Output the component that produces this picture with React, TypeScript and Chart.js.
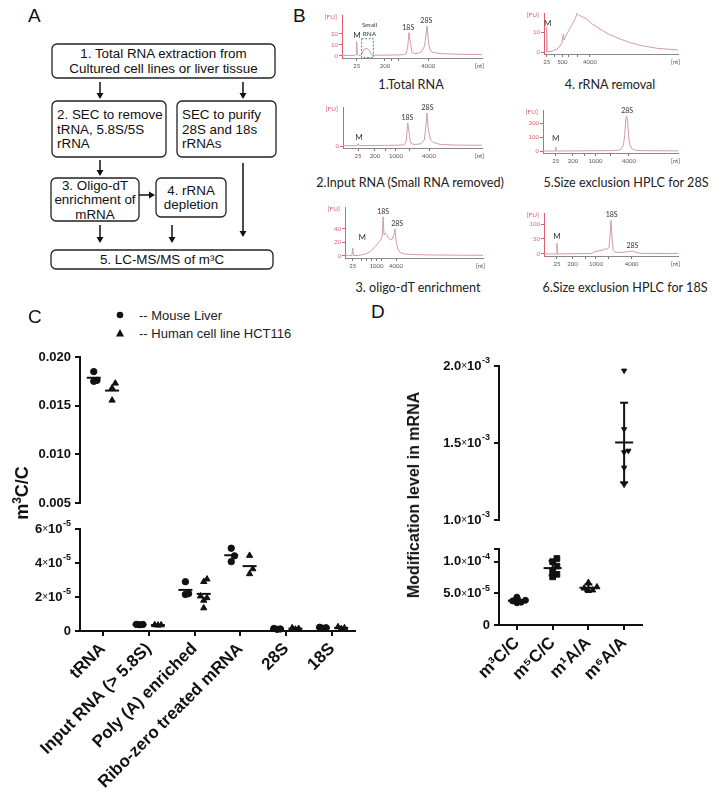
import React, { useEffect, useRef } from "react";
import { Chart, registerables } from "chart.js";

Chart.register(...registerables);
if (typeof document !== "undefined") document.body.style.margin = "0";

const ARIAL = '"Liberation Sans", Arial, Helvetica, sans-serif';
const CALI = 'Lato, "Open Sans", "Noto Sans", sans-serif';
const RED = "#de5e6e";
const TRACE = "#d49aa6";
const INK = "#111";

// ================= Panel B : electropherograms =================
const bTitles = [
  "1.Total RNA",
  "2.Input RNA (Small RNA removed)",
  "3. oligo-dT enrichment",
  "4. rRNA removal",
  "5.Size exclusion HPLC for 28S",
  "6.Size exclusion HPLC for 18S",
];

// traces: [migration position (0-100 of axis), fluorescence FU]
const b1Trace = [[0,0.3],[9,0.3],[10,1],[10.5,13],[11,1],[12,0.3],[14,0.8],[15,4],[16,6.2],[18,6.6],[19.5,5],[21,1],[23,0.5],[30,0.6],[40,0.8],[44,1],[46,2],[47,9],[47.9,21],[49,11],[50,3],[52,1.8],[55,2.5],[57,4],[59,9],[60.7,27],[62,10],[63,5],[65,3],[70,2],[80,1.5],[90,1.2],[100,1.2]];
const b1XTicks = [10.5, 30.7, 35.5, 40.2, 61.6];
const b1XLabels = ["25", "200", "", "", "4000"];
const b1YTicks = [0, 10, 20];
const b1Labels = [{ text: "M", x: 10.7, y: 14.5, size: 8 }, { text: "Small\nRNA", x: 19.6, y: 17, size: 6.5 }, { text: "18S", x: 47.3, y: 22.5, size: 7 }, { text: "28S", x: 60.2, y: 28.5, size: 7 }];

const b2Trace = [[0,0.3],[10,0.3],[10.8,2.5],[11.6,0.4],[20,0.5],[30,0.6],[40,0.8],[44,1.2],[45.5,5],[46.6,23],[47.5,14],[48.5,4],[49.5,2],[52,1.5],[56,2.2],[58.5,6],[59.6,20],[60.4,33],[61.4,16],[63,6],[65,3.5],[67,3],[70,1.5],[80,1],[90,0.8],[100,0.8]];
const b2XTicks = [10.8, 23, 30.9, 38.1, 48.2, 61.9];
const b2XLabels = ["25", "200", "", "1000", "", "4000"];
const b2YTicks = [0];
const b2Labels = [{ text: "M", x: 11.5, y: 5, size: 8 }, { text: "18S", x: 46.3, y: 24.5, size: 7 }, { text: "28S", x: 60.8, y: 34.5, size: 7 }];

const b3Trace = [[0,0.5],[5,0.5],[5.6,12],[6.2,0.5],[10,0.8],[12,1.5],[15,3],[18,6],[21,12],[24,19],[26,24],[27,30],[27.6,58],[28.3,31],[29.2,34],[30.2,32],[31.3,27],[32.8,24],[34.2,25],[35.4,31],[36.2,40],[37,22],[38.3,10],[40,5],[43,3],[50,2],[60,1.6],[75,1.3],[100,1]];
const b3XTicks = [5.6, 12.1, 15.7, 19.3, 22.9, 26.6, 37.0];
const b3XLabels = ["25", "", "", "", "1000", "", "4000"];
const b3YTicks = [0, 20, 40];
const b3Labels = [{ text: "M", x: 12.5, y: 22, size: 8 }, { text: "18S", x: 27.6, y: 60, size: 7 }, { text: "28S", x: 37.8, y: 43, size: 7 }];

const b4Trace = [[0,0],[1.6,0],[2,12.5],[2.4,0],[6,0.4],[9.7,1.5],[12,3],[13.4,4.5],[14.4,9],[15,6],[17,9],[19.5,12],[21.6,14.5],[23.5,17],[24.6,19.3],[26,18.3],[28,17.8],[32,16.5],[36,14],[41.8,11.5],[48,9],[56.7,6.5],[65,4.5],[74,3],[85,1.8],[100,1]];
const b4XTicks = [2, 7.9, 13.7, 18.4, 24.8, 34.3];
const b4XLabels = ["25", "", "500", "", "", "4000"];
const b4YTicks = [0, 10];
const b4Labels = [{ text: "M", x: 2.8, y: 12.5, size: 8 }];

const b5Trace = [[0,0],[9,0],[9.4,30],[9.8,0],[20,1],[40,2],[52,3],[56,6],[58,15],[59.5,40],[60.5,110],[61.4,230],[62,250],[62.7,210],[63.5,100],[64.5,40],[66,15],[68,6],[72,3],[80,2],[100,1]];
const b5XTicks = [9.4, 22.2, 30.4, 38.9, 50, 63.7];
const b5XLabels = ["25", "200", "", "1000", "", "4000"];
const b5YTicks = [0, 100, 200];
const b5Labels = [{ text: "M", x: 9.4, y: 65, size: 8 }, { text: "28S", x: 62.3, y: 262, size: 7 }];

const b6Trace = [[0,0],[9.3,0],[9.7,35],[10.1,0],[20,0.5],[30,1],[36,2],[38,8],[41,10],[44,13],[46,18],[47,15],[48.5,22],[49.3,60],[50,113],[50.8,50],[51.7,12],[53,6],[56,5],[60,6],[63,8],[65.7,9.5],[68,6],[72,2],[80,1.5],[100,1]];
const b6XTicks = [9.7, 21.3, 30.6, 38.8, 47.8, 65.4];
const b6XLabels = ["25", "200", "", "1000", "", "4000"];
const b6YTicks = [0, 50, 100];
const b6Labels = [{ text: "M", x: 9.7, y: 45, size: 8 }, { text: "18S", x: 50.5, y: 118, size: 7 }, { text: "28S", x: 66, y: 16, size: 7 }];

// ================= Panel C =================
const cCategories = ["tRNA", "Input RNA (> 5.8S)", "Poly (A) enriched", "Ribo-zero treated mRNA", "28S", "18S"];
const cSeriesNames = ["-- Mouse Liver", "-- Human cell line HCT116"];
const cMouseLiver = [
  [0.0185, 0.0176, 0.0175],
  [3.9e-6, 3.7e-6, 3.8e-6],
  [2.9e-5, 2.2e-5, 2.15e-5],
  [4.87e-5, 4.42e-5, 4.08e-5],
  [1.2e-6, 1.5e-6, 1.0e-6],
  [1.6e-6, 2.2e-6, 1.9e-6],
];
const cHCT116 = [
  [0.0173, 0.0168, 0.01555],
  [3.4e-6, 3.6e-6, 3.5e-6],
  [2.9e-5, 3.05e-5, 2.05e-5, 1.95e-5, 1.8e-5, 1.35e-5],
  [4.44e-5, 3.65e-5, 3.36e-5],
  [1.0e-6, 1.8e-6, 1.4e-6],
  [1.3e-6, 2.4e-6, 1.8e-6],
];
const cUpperTicks = [0.005, 0.01, 0.015, 0.02];
const cUpperLabels = ["0.005", "0.010", "0.015", "0.020"];
const cLowerTicks = [0, 2e-5, 4e-5, 6e-5];
const cLowerLabels = ["0", "2×10⁻⁵", "4×10⁻⁵", "6×10⁻⁵"];

// ================= Panel D =================
const dCategories = ["m³C/C", "m⁵C/C", "m¹A/A", "m⁶A/A"];
const dValues = [
  [4.4e-5, 3.9e-5, 3.6e-5, 3.5e-5, 3.8e-5],
  [1.05e-4, 1.0e-4, 9.3e-5, 8.5e-5, 8.0e-5, 7.6e-5],
  [6.7e-5, 6.0e-5, 5.8e-5, 5.5e-5, 5.4e-5],
  [1.97e-3, 1.59e-3, 1.44e-3, 1.45e-3, 1.34e-3, 1.23e-3],
];
const dUpperTicks = [1.0e-3, 1.5e-3, 2.0e-3];
const dUpperLabels = ["1.0×10⁻³", "1.5×10⁻³", "2.0×10⁻³"];
const dLowerTicks = [0, 5e-5, 1e-4, 1.2e-4];
const dLowerLabels = ["0", "5.0×10⁻⁵", "1.0×10⁻⁴", ""];

// ================= Panel A (flowchart text/layout) =================
const flowBoxes = [
  { x: 52, y: 44, w: 223, h: 34, align: "middle", lines: ["1. Total RNA extraction from", "Cultured cell lines or liver tissue"] },
  { x: 52, y: 101, w: 114, h: 56, align: "start", lines: ["2. SEC to remove", "tRNA, 5.8S/5S", "rRNA"] },
  { x: 177, y: 101, w: 99, h: 56, align: "start", lines: ["SEC to purify", "28S and 18s", "rRNAs"] },
  { x: 51, y: 178, w: 88, h: 43, align: "middle", lines: ["3. Oligo-dT", "enrichment of", "mRNA"] },
  { x: 156, y: 178, w: 70, h: 39, align: "middle", lines: ["4. rRNA", "depletion"] },
  { x: 51, y: 250, w: 222, h: 19, align: "middle", lines: ["5. LC-MS/MS of m³C"] },
];
const flowArrows = [
  [100, 82, 100, 99], [243, 82, 243, 99], [100, 160, 100, 176], [243, 163, 243, 237],
  [139, 195, 155, 195], [100, 225, 100, 243], [172, 225, 172, 243],
];

// ================= helpers =================
type Area = { left: number; top: number; right: number; bottom: number };
type Pad = { l: number; t: number; r: number; b: number };

function ChartCanvas({ area, pad, make }: { area: Area; pad: Pad; make: () => any }) {
  const ref = useRef<HTMLCanvasElement>(null);
  const W = Math.round(area.right - area.left + pad.l + pad.r);
  const H = Math.round(area.bottom - area.top + pad.t + pad.b);
  useEffect(() => {
    const chart = new Chart(ref.current as HTMLCanvasElement, make());
    return () => chart.destroy();
  }, []);
  return (
    <canvas
      ref={ref}
      width={W}
      height={H}
      style={{ position: "absolute", left: area.left - pad.l, top: area.top - pad.t, width: W, height: H }}
    />
  );
}

const epgMarksPlugin = {
  id: "epgMarks",
  afterDraw(chart: any, _a: any, opts: any) {
    const { ctx, chartArea: a, scales } = chart;
    const x = scales.x, y = scales.y;
    ctx.save();
    ctx.font = `6.5px ${CALI}`;
    ctx.fillStyle = RED;
    ctx.textAlign = "right";
    ctx.textBaseline = "middle";
    ctx.fillText("[FU]", a.left - 5, a.top + 2);
    ctx.fillStyle = "#555";
    ctx.font = `6px ${CALI}`;
    ctx.textAlign = "right";
    ctx.textBaseline = "top";
    ctx.fillText("[nt]", a.right + 2, a.bottom + 5);
    (opts.labels || []).forEach((l: any) => {
      ctx.font = `${l.size}px ${CALI}`;
      ctx.fillStyle = "#333";
      ctx.textAlign = "center";
      ctx.textBaseline = "bottom";
      const lines = l.text.split("\n");
      lines.forEach((t: string, j: number) => {
        ctx.fillText(t, x.getPixelForValue(l.x), y.getPixelForValue(l.y) - (lines.length - 1 - j) * (l.size + 2));
      });
    });
    if (opts.box) {
      const b = opts.box;
      ctx.setLineDash([2, 1.5]);
      ctx.strokeStyle = "#3a8db8";
      ctx.lineWidth = 1;
      const x0 = x.getPixelForValue(b.x0), x1 = x.getPixelForValue(b.x1);
      const y0 = y.getPixelForValue(b.y0), y1 = y.getPixelForValue(b.y1);
      ctx.strokeRect(x0, y1, x1 - x0, y0 - y1);
    }
    ctx.restore();
  },
};

const EPG_PAD: Pad = { l: 22, t: 6, r: 5, b: 16 };

function makeEpg(p: any) {
  return {
    type: "line",
    data: {
      datasets: [{
        data: p.trace.map((pt: number[]) => ({ x: pt[0], y: pt[1] })),
        borderColor: TRACE, borderWidth: 1, pointRadius: 0, tension: 0, fill: false, clip: 3,
      }],
    },
    options: {
      responsive: false, animation: false, events: [],
      layout: { padding: { left: 0, right: EPG_PAD.r, top: EPG_PAD.t, bottom: 0 } },
      plugins: { legend: { display: false }, tooltip: { enabled: false }, epgMarks: { labels: p.labels, box: p.box } },
      scales: {
        x: {
          type: "linear", min: 0, max: 100,
          afterBuildTicks: (s: any) => { s.ticks = p.xTicks.map((v: number) => ({ value: v })); },
          afterFit: (s: any) => { s.height = EPG_PAD.b; s.paddingLeft = 0; s.paddingRight = 0; },
          ticks: { autoSkip: false, maxRotation: 0, minRotation: 0, padding: 1, color: "#555", font: { family: CALI, size: 6 }, callback: (_v: any, i: number) => p.xLabels[i] },
          grid: { drawOnChartArea: false, drawTicks: true, tickLength: 3, color: "#777", lineWidth: 1 },
          border: { display: true, color: "#888", width: 1 },
        },
        y: {
          type: "linear", min: p.yMin, max: p.yMax,
          afterBuildTicks: (s: any) => { s.ticks = p.yTicks.map((v: number) => ({ value: v })); },
          afterFit: (s: any) => { s.width = EPG_PAD.l; s.paddingTop = 0; s.paddingBottom = 0; },
          ticks: { padding: 1, color: RED, font: { family: CALI, size: 6 }, callback: (v: any) => String(v) },
          grid: { drawOnChartArea: false, tickLength: 3, color: RED, lineWidth: 1 },
          border: { color: RED, width: 1 },
        },
      },
    },
    plugins: [epgMarksPlugin],
  };
}

const epgPanels = [
  { trace: b1Trace, xTicks: b1XTicks, xLabels: b1XLabels, yTicks: b1YTicks, labels: b1Labels, yMin: -2, yMax: 37, area: { left: 342, top: 15, right: 482, bottom: 58 }, cap: [411, 84], box: { x0: 14, x1: 22.4, y0: -1.6, y1: 15.5 } },
  { trace: b2Trace, xTicks: b2XTicks, xLabels: b2XLabels, yTicks: b2YTicks, labels: b2Labels, yMin: -2, yMax: 39, area: { left: 343, top: 107, right: 482, bottom: 148 }, cap: [410, 182] },
  { trace: b3Trace, xTicks: b3XTicks, xLabels: b3XLabels, yTicks: b3YTicks, labels: b3Labels, yMin: -3, yMax: 72.5, area: { left: 345, top: 207, right: 483, bottom: 258 }, cap: [418, 287] },
  { trace: b4Trace, xTicks: b4XTicks, xLabels: b4XLabels, yTicks: b4YTicks, labels: b4Labels, yMin: -1, yMax: 19.5, area: { left: 544, top: 13, right: 678, bottom: 54 }, cap: [610, 84] },
  { trace: b5Trace, xTicks: b5XTicks, xLabels: b5XLabels, yTicks: b5YTicks, labels: b5Labels, yMin: -14, yMax: 293, area: { left: 543, top: 110, right: 678, bottom: 153 }, cap: [626, 182] },
  { trace: b6Trace, xTicks: b6XTicks, xLabels: b6XLabels, yTicks: b6YTicks, labels: b6Labels, yMin: -7, yMax: 137, area: { left: 544, top: 213, right: 678, bottom: 256 }, cap: [625, 287] },
];

// ---- dot-plot helpers ----
function swarm(values: number[], step: number, sep: (v: number) => number): number[] {
  const order = values.map((_, i) => i).sort((a, b) => values[a] - values[b]);
  const offs = values.map(() => 0);
  const placed: { v: number; k: number }[] = [];
  order.forEach((i) => {
    const v = values[i];
    for (const k of [0, 1, -1, 2, -2, 3, -3]) {
      if (!placed.some((p) => p.k === k && Math.abs(p.v - v) < sep(v))) {
        offs[i] = k * step;
        placed.push({ v, k });
        break;
      }
    }
  });
  return offs;
}

const statsPlugin = {
  id: "groupStats",
  afterDatasetsDraw(chart: any, _a: any, opts: any) {
    const { ctx, chartArea: a, scales } = chart;
    const x = scales.x, y = scales.y;
    ctx.save();
    ctx.beginPath();
    ctx.rect(a.left - 20, a.top - 6, a.right - a.left + 40, a.bottom - a.top + 12);
    ctx.clip();
    ctx.strokeStyle = INK;
    ctx.lineWidth = 2;
    const seg = (x1: number, y1: number, x2: number, y2: number) => {
      ctx.beginPath(); ctx.moveTo(x1, y1); ctx.lineTo(x2, y2); ctx.stroke();
    };
    chart.data.datasets.forEach((ds: any) => {
      const vals = ds.data.map((p: any) => p.y);
      const n = vals.length;
      const mean = vals.reduce((s: number, v: number) => s + v, 0) / n;
      const sd = Math.sqrt(vals.reduce((s: number, v: number) => s + (v - mean) ** 2, 0) / (n - 1));
      const cx = x.getPixelForValue(ds.groupX);
      const my = y.getPixelForValue(mean);
      seg(cx - opts.meanHalf, my, cx + opts.meanHalf, my);
      if (opts.sd) {
        const t = y.getPixelForValue(mean + sd), b = y.getPixelForValue(mean - sd);
        seg(cx, t, cx, b);
        seg(cx - opts.capHalf, t, cx + opts.capHalf, t);
        seg(cx - opts.capHalf, b, cx + opts.capHalf, b);
      }
    });
    ctx.restore();
  },
};

// y tick labels with a real raised exponent (e.g. "6×10⁻⁵" -> "6×10" + small "-5")
const SUP: Record<string, string> = { "⁻": "-", "⁰": "0", "¹": "1", "²": "2", "³": "3", "⁴": "4", "⁵": "5", "⁶": "6", "⁷": "7", "⁸": "8", "⁹": "9" };
const supTickPlugin = {
  id: "supTicks",
  afterDraw(chart: any, _a: any, opts: any) {
    const { ctx, chartArea: a, scales } = chart;
    const y = scales.y;
    ctx.save();
    ctx.fillStyle = INK;
    ctx.textAlign = "right";
    ctx.textBaseline = "middle";
    const xr = a.left - 9;
    opts.ticks.forEach((v: number, i: number) => {
      const lab: string = opts.labels[i];
      if (!lab) return;
      const py = y.getPixelForValue(v);
      const k = lab.search(/[⁻⁰¹²³⁴⁵⁶⁷⁸⁹]/);
      const base = k < 0 ? lab : lab.slice(0, k);
      const exp = k < 0 ? "" : lab.slice(k).split("").map((c) => SUP[c] ?? c).join("");
      let xx = xr;
      if (exp) {
        ctx.font = `bold 9px ${ARIAL}`;
        ctx.fillText(exp, xx, py - 5);
        xx -= ctx.measureText(exp).width + 0.5;
      }
      const xi = base.indexOf("×");
      if (xi >= 0) {
        const tail = base.slice(xi + 1), head = base.slice(0, xi);
        ctx.font = `bold 13px ${ARIAL}`;
        ctx.fillText(tail, xx, py);
        xx -= ctx.measureText(tail).width;
        ctx.font = `10px ${ARIAL}`;
        ctx.fillText("×", xx, py + 0.5);
        xx -= ctx.measureText("×").width;
        ctx.font = `bold 13px ${ARIAL}`;
        ctx.fillText(head, xx, py);
      } else {
        ctx.font = `bold 13px ${ARIAL}`;
        ctx.fillText(base, xx, py);
      }
    });
    ctx.restore();
  },
};

function makeSegment(s: any) {
  const datasets = s.groups.map((g: any) => {
    const offs = swarm(g.values, s.step, s.sep);
    return {
      type: "scatter",
      data: g.values.map((v: number, j: number) => ({ x: g.cx + offs[j], y: v })),
      pointStyle: g.style, pointRadius: g.radius, pointRotation: g.rotation || 0,
      backgroundColor: INK, borderColor: INK, borderWidth: 1, showLine: false,
      clip: { left: false, right: false, top: 7, bottom: 7 },
      groupX: g.cx,
    };
  });
  return {
    type: "scatter",
    data: { datasets },
    options: {
      responsive: false, animation: false, events: [],
      layout: { padding: { left: 0, right: s.pad.r, top: s.pad.t, bottom: s.showX ? 0 : s.pad.b } },
      plugins: { legend: { display: false }, tooltip: { enabled: false }, groupStats: s.stats, supTicks: { ticks: s.yTicks, labels: s.yLabels } },
      scales: {
        x: s.showX ? {
          type: "linear", min: -0.5, max: s.cats.length - 0.5,
          afterBuildTicks: (sc: any) => { sc.ticks = s.cats.map((_: any, i: number) => ({ value: i })); },
          afterFit: (sc: any) => { sc.height = s.pad.b; sc.paddingLeft = 0; sc.paddingRight = 0; },
          ticks: { autoSkip: false, minRotation: 45, maxRotation: 45, padding: 3, color: INK, font: { family: ARIAL, size: s.xFontSize, weight: "bold" }, callback: (_v: any, i: number) => s.cats[i] },
          grid: { drawOnChartArea: false, tickLength: 5, color: INK, lineWidth: 2 },
          border: { color: INK, width: 2 },
        } : { type: "linear", min: -0.5, max: s.cats.length - 0.5, display: false },
        y: {
          type: "linear", min: s.yMin, max: s.yMax,
          afterBuildTicks: (sc: any) => { sc.ticks = s.yTicks.map((v: number) => ({ value: v })); },
          afterFit: (sc: any) => { sc.width = s.pad.l; sc.paddingTop = 0; sc.paddingBottom = 0; },
          ticks: { display: false, callback: (_v: any, i: number) => s.yLabels[i] },
          grid: { drawOnChartArea: false, tickLength: 5, color: INK, lineWidth: 2 },
          border: { color: INK, width: 2 },
        },
      },
    },
    plugins: [statsPlugin, supTickPlugin],
  };
}

const cGroups = [
  ...cMouseLiver.map((vals, i) => ({ cx: i - 0.2, values: vals, style: "circle", radius: 3.2 })),
  ...cHCT116.map((vals, i) => ({ cx: i + 0.2, values: vals, style: "triangle", radius: 3.6 })),
];
const cSep = (v: number) => (v > 1e-3 ? 7e-4 : 4e-6);
const cCommon = { cats: cCategories, groups: cGroups, step: 0.07, sep: cSep, xFontSize: 17, stats: { meanHalf: 7, sd: false } };
const cUpper = { ...cCommon, yMin: 0.005, yMax: 0.02, yTicks: cUpperTicks, yLabels: cUpperLabels, showX: false, area: { left: 80, top: 357, right: 355, bottom: 503 }, pad: { l: 80, t: 9, r: 8, b: 8 } };
const cLower = { ...cCommon, yMin: 0, yMax: 6e-5, yTicks: cLowerTicks, yLabels: cLowerLabels, showX: true, area: { left: 80, top: 529, right: 355, bottom: 631 }, pad: { l: 80, t: 9, r: 8, b: 161 } };

const dStyles = [
  { style: "circle", radius: 3, rotation: 0 },
  { style: "rect", radius: 4, rotation: 0 },
  { style: "triangle", radius: 3.5, rotation: 0 },
  { style: "triangle", radius: 3, rotation: 180 },
];
const dGroups = dValues.map((vals, i) => ({ cx: i, values: vals, ...dStyles[i] }));
const dSep = (v: number) => (v > 5e-4 ? 4.5e-5 : 8e-6);
const dCommon = { cats: dCategories, groups: dGroups, step: 0.12, sep: dSep, xFontSize: 17, stats: { meanHalf: 9, sd: true, capHalf: 4 } };
const dUpper = { ...dCommon, yMin: 1e-3, yMax: 2e-3, yTicks: dUpperTicks, yLabels: dUpperLabels, showX: false, area: { left: 499, top: 366, right: 642, bottom: 520 }, pad: { l: 90, t: 9, r: 8, b: 8 } };
const dLower = { ...dCommon, yMin: 0, yMax: 1.2e-4, yTicks: dLowerTicks, yLabels: dLowerLabels, showX: true, area: { left: 499, top: 549, right: 642, bottom: 625 }, pad: { l: 90, t: 9, r: 8, b: 110 } };

// ================= components =================
function Arrow({ a }: { a: number[] }) {
  const [x1, y1, x2, y2] = a;
  const dx = x2 - x1, dy = y2 - y1;
  const L = Math.hypot(dx, dy);
  const ux = dx / L, uy = dy / L;
  const hl = 6, hw = 3.5;
  const bx = x2 - ux * hl, by = y2 - uy * hl;
  return (
    <g>
      <line x1={x1} y1={y1} x2={bx} y2={by} stroke={INK} strokeWidth={1.5} />
      <polygon points={`${x2},${y2} ${bx - uy * hw},${by + ux * hw} ${bx + uy * hw},${by - ux * hw}`} fill={INK} />
    </g>
  );
}

function FlowChart() {
  const lh = 14.5;
  return (
    <svg width={300} height={290} style={{ position: "absolute", left: 0, top: 0 }}>
      {flowBoxes.map((b, i) => {
        const n = b.lines.length;
        const y0 = b.y + b.h / 2 - ((n - 1) * lh) / 2 + 4.7;
        const tx = b.align === "start" ? b.x + 5 : b.x + b.w / 2;
        return (
          <g key={i}>
            <rect x={b.x} y={b.y} width={b.w} height={b.h} rx={5} fill="none" stroke="#222" strokeWidth={1.3} />
            {b.lines.map((t, j) => (
              <text key={j} x={tx} y={y0 + j * lh} textAnchor={b.align} fontFamily={ARIAL} fontSize={13.4} fill={INK}>{t}</text>
            ))}
          </g>
        );
      })}
      {flowArrows.map((a, i) => <Arrow key={i} a={a} />)}
    </svg>
  );
}

function Letter({ text, x, y }: { text: string; x: number; y: number }) {
  return <div style={{ position: "absolute", left: x, top: y, font: `19px ${ARIAL}`, lineHeight: "19px", color: INK }}>{text}</div>;
}

export default function App() {
  return (
    <div style={{ position: "relative", width: 713, height: 792, background: "#fff", overflow: "hidden", fontFamily: ARIAL }}>
      <FlowChart />
      {epgPanels.map((p, i) => (
        <ChartCanvas key={"e" + i} area={p.area} pad={EPG_PAD} make={() => makeEpg(p)} />
      ))}
      {epgPanels.map((p, i) => (
        <div key={"t" + i} style={{ position: "absolute", left: p.cap[0], top: p.cap[1], transform: "translate(-50%, -50%)", font: `12.6px ${CALI}`, whiteSpace: "nowrap", color: "#222" }}>{bTitles[i]}</div>
      ))}
      {[cUpper, cLower, dUpper, dLower].map((s, i) => (
        <ChartCanvas key={"s" + i} area={s.area} pad={s.pad} make={() => makeSegment(s)} />
      ))}

      {/* legend of C */}
      <svg width={14} height={40} style={{ position: "absolute", left: 113, top: 308 }}>
        <circle cx={7} cy={7} r={3.3} fill={INK} />
        <polygon points="7,21 3,28.5 11,28.5" fill={INK} />
      </svg>
      <div style={{ position: "absolute", left: 139, top: 315, transform: "translateY(-50%)", font: `13px ${ARIAL}`, color: "#222", whiteSpace: "nowrap" }}>{cSeriesNames[0]}</div>
      <div style={{ position: "absolute", left: 139, top: 333, transform: "translateY(-50%)", font: `13px ${ARIAL}`, color: "#222", whiteSpace: "nowrap" }}>{cSeriesNames[1]}</div>

      {/* axis titles */}
      <div style={{ position: "absolute", left: 21, top: 493, transform: "translate(-50%, -50%) rotate(-90deg)", font: `bold 18px ${ARIAL}`, color: INK, whiteSpace: "nowrap" }}>
        m<sup style={{ fontSize: 12 }}>3</sup>C/C
      </div>
      <div style={{ position: "absolute", left: 414, top: 495, transform: "translate(-50%, -50%) rotate(-90deg)", font: `bold 16px ${ARIAL}`, color: INK, whiteSpace: "nowrap" }}>
        Modification level in mRNA
      </div>

      <Letter text="A" x={28} y={6} />
      <Letter text="B" x={293} y={6} />
      <Letter text="C" x={28} y={307} />
      <Letter text="D" x={371} y={302} />
    </div>
  );
}
